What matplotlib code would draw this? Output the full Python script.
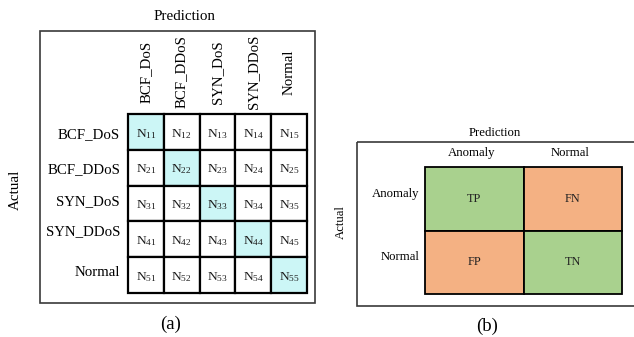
import matplotlib
matplotlib.use("Agg")
import matplotlib.pyplot as plt
from matplotlib.patches import Rectangle

plt.rcParams['font.family'] = ['Liberation Serif', 'DejaVu Serif']
plt.rcParams['mathtext.fontset'] = 'custom'
plt.rcParams['mathtext.rm'] = 'Liberation Serif'
plt.rcParams['mathtext.it'] = 'Liberation Serif:italic'

# ---- data ----
multi_classes = ["BCF_DoS", "BCF_DDoS", "SYN_DoS", "SYN_DDoS", "Normal"]
binary_classes = ["Anomaly", "Normal"]
binary_cells = [["TP", "FN"], ["FP", "TN"]]
binary_correct = [[True, False], [False, True]]

W, H = 634, 337
fig = plt.figure(figsize=(W / 100, H / 100), dpi=100)


def px_axes(x0, y0, x1, y1):
    """Axes placed by pixel box (top-left origin)."""
    return fig.add_axes([x0 / W, (H - y1) / H, (x1 - x0) / W, (y1 - y0) / H])


# full-figure overlay for frames and panel captions
bg = fig.add_axes([0, 0, 1, 1])
bg.set_xlim(0, W)
bg.set_ylim(H, 0)
bg.axis('off')
bg.add_patch(Rectangle((39.5, 30.5), 275.5, 272, fill=False, lw=1.2, ec='#3a3a3a'))
bg.add_patch(Rectangle((357, 142), 290, 163.5, fill=False, lw=1.2, ec='#3a3a3a', clip_on=True))
bg.text(185, 16, "Prediction", ha='center', va='center', fontsize=10.8)
bg.text(15, 190, "Actual", ha='center', va='center', rotation=90, fontsize=10.8)
bg.text(171, 324, "(a)", ha='center', va='center', fontsize=13.5)
bg.text(495, 133, "Prediction", ha='center', va='center', fontsize=9.2)
bg.text(341, 222, "Actual", ha='center', va='center', rotation=90, fontsize=9.2)
bg.text(487, 326, "(b)", ha='center', va='center', fontsize=13.5)

# ---- (a) multi-class confusion matrix ----
n = len(multi_classes)
axa = px_axes(128, 114, 307, 293)
axa.set_xlim(0, n)
axa.set_ylim(n, 0)
axa.axis('off')
cell_px = 179 / n
for i in range(n):
    for j in range(n):
        fc = '#ccf6f6' if i == j else 'white'
        axa.add_patch(Rectangle((j, i), 1, 1, fc=fc, ec='black', lw=1.6, clip_on=False))
        axa.text(j + 0.5, i + 0.55, r"$\mathrm{N}_{%d%d}$" % (i + 1, j + 1),
                 ha='center', va='center', fontsize=9.6, color='#1a1a1a')

row_nudge = [0.08, 0.05, -0.05, -0.22, -0.08]
for i, name in enumerate(multi_classes):
    axa.text(-0.22, i + 0.5 + row_nudge[i], name, ha='right', va='center',
             fontsize=10.7, clip_on=False)
for j, name in enumerate(multi_classes):
    axa.text(j + 0.5, -42 / cell_px, name, ha='center', va='center',
             rotation=90, fontsize=10.7, clip_on=False)

# ---- (b) binary confusion matrix ----
m = len(binary_classes)
axb = px_axes(425, 167, 622, 294)
axb.set_xlim(0, m)
axb.set_ylim(m, 0)
axb.axis('off')
for i in range(m):
    for j in range(m):
        fc = '#a9d18e' if binary_correct[i][j] else '#f4b183'
        axb.add_patch(Rectangle((j, i), 1, 1, fc=fc, ec='black', lw=1.3, clip_on=False))
        axb.text(j + 0.5, i + 0.5, binary_cells[i][j], ha='center', va='center',
                 fontsize=8.8, color='#222222')
for i, name in enumerate(binary_classes):
    axb.text(-0.06, i + 0.42, name, ha='right', va='center', fontsize=9.2, clip_on=False)
for j, name in enumerate(binary_classes):
    axb.text(j + 0.47, -0.22, name, ha='center', va='center', fontsize=9.2, clip_on=False)

fig.savefig("out.png", dpi=100)
